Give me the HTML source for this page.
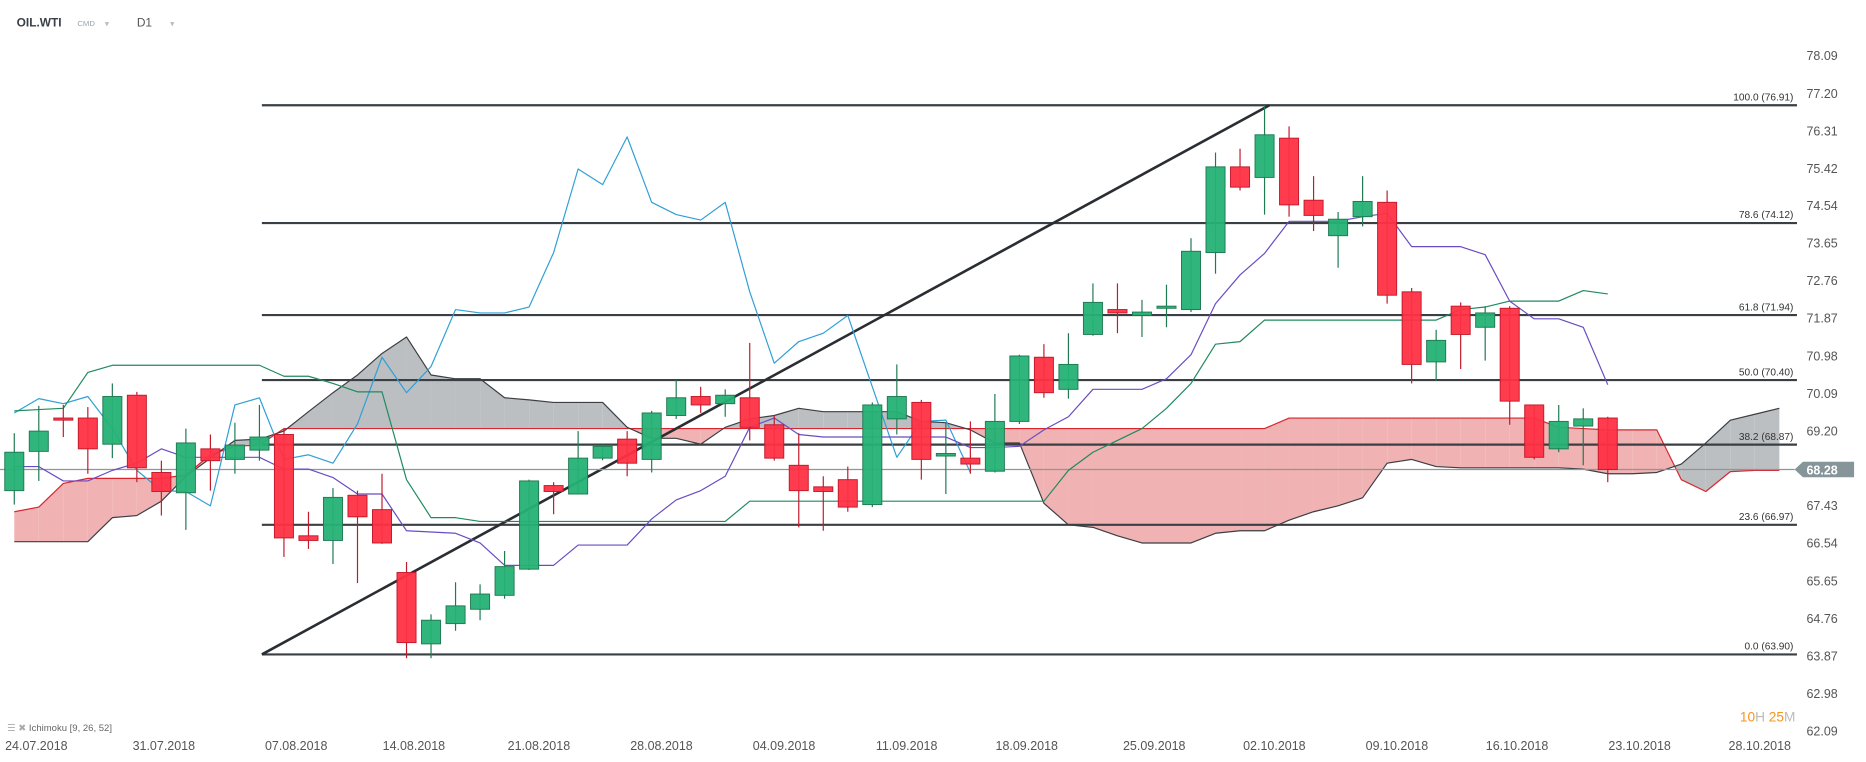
<!DOCTYPE html>
<html><head><meta charset="utf-8"><style>
html,body{margin:0;padding:0;background:#fff;}
svg{display:block;font-family:"Liberation Sans",sans-serif;}
</style></head><body>
<svg id="chart" width="1866" height="762" viewBox="0 0 1568 640" xmlns="http://www.w3.org/2000/svg">
<rect x="0" y="0" width="1568" height="640" fill="#fff"/>
<g id="header">
<text x="14" y="22" font-size="10" font-weight="bold" fill="#3a4047">OIL.WTI</text>
<text x="65" y="21.5" font-size="6.5" fill="#9aa3a8">CMD</text>
<text x="88" y="22" font-size="7" fill="#bbb">▾</text>
<text x="115" y="22" font-size="10" fill="#555">D1</text>
<text x="143" y="22" font-size="7" fill="#bbb">▾</text>
</g>
<g id="cloud"></g>
<g id="fib"></g>
<g id="lines"></g>
<g id="candles"></g>
<g id="axis"></g>
<text x="6" y="614" font-size="8" fill="#666"><tspan fill="#aaa">☰ ✖</tspan> Ichimoku  [9, 26, 52]</text>
<text x="1462" y="606" font-size="11.5"><tspan fill="#f7941d">10</tspan><tspan fill="#bbb">H </tspan><tspan fill="#f7941d">25</tspan><tspan fill="#bbb">M</tspan></text>
</svg>
<script>
const opens=[67.78,68.71,69.50,69.50,68.88,70.04,68.21,67.73,68.77,68.52,68.74,69.11,66.71,66.60,67.67,67.33,65.84,64.15,64.63,64.97,65.30,65.92,67.90,67.70,68.55,69.00,68.52,69.56,70.01,69.84,69.98,69.34,68.38,67.87,68.04,67.45,69.48,69.87,68.60,68.55,68.24,69.42,70.94,70.18,71.48,72.07,71.93,72.10,72.07,73.42,75.45,75.20,76.13,74.66,73.82,74.27,74.61,72.49,70.83,72.15,71.65,72.10,69.81,68.77,69.31,69.50];
const highs=[69.14,69.79,69.81,69.76,70.32,70.12,68.49,69.25,69.11,69.39,69.81,69.25,67.28,67.84,67.78,68.18,66.09,64.85,65.61,65.56,66.35,68.04,67.98,69.19,68.88,69.19,69.67,70.41,70.24,70.18,71.28,69.56,69.14,68.12,68.35,69.87,70.77,69.93,69.39,69.42,70.07,71.00,71.25,71.51,72.69,72.69,72.30,72.66,73.76,75.79,75.88,76.91,76.41,75.23,74.38,75.23,74.89,72.58,71.59,72.24,72.15,72.15,69.81,69.81,69.73,69.53];
const lows=[67.45,68.01,69.05,68.18,68.55,67.98,67.19,66.85,67.78,68.18,68.49,66.21,66.40,66.04,65.59,66.52,63.81,63.81,64.46,64.71,65.22,65.90,67.22,67.70,68.50,68.12,68.21,69.48,69.62,69.53,68.97,68.49,66.91,66.83,67.28,67.39,69.11,68.04,67.70,68.18,68.21,69.36,69.98,69.96,71.45,71.51,71.42,71.65,72.01,72.92,74.89,74.32,74.27,73.93,73.06,74.04,72.21,70.32,70.38,70.66,70.86,69.34,68.52,68.69,68.38,67.98];
const closes=[68.69,69.19,69.45,68.77,70.01,68.32,67.76,68.91,68.49,68.86,69.05,66.66,66.60,67.62,67.16,66.54,64.18,64.71,65.05,65.33,65.98,68.01,67.76,68.55,68.83,68.43,69.62,69.98,69.81,70.04,69.28,68.55,67.78,67.76,67.39,69.81,70.01,68.52,68.66,68.41,69.42,70.97,70.10,70.77,72.24,71.99,72.01,72.15,73.45,75.45,74.97,76.21,74.55,74.30,74.21,74.63,72.41,70.77,71.34,71.48,71.99,69.90,68.57,69.42,69.48,68.28];
const chikou=[69.62,69.96,69.84,70.01,69.25,68.26,67.78,67.76,67.42,69.81,69.98,68.52,68.63,68.43,69.36,70.94,70.10,70.72,72.07,71.99,71.99,72.13,73.42,75.40,75.03,76.16,74.61,74.32,74.19,74.61,72.49,70.80,71.31,71.51,71.93,70.24,68.57,69.42,69.45,68.21];
const tenkan=[68.35,68.35,68.01,68.01,68.26,68.43,68.77,68.57,68.57,68.57,68.57,68.29,68.29,68.09,67.70,67.70,66.83,66.80,66.77,66.54,66.01,66.01,66.01,66.49,66.49,66.49,67.11,67.56,67.78,68.12,69.28,69.50,69.11,69.05,69.05,69.05,69.05,69.05,69.05,68.80,68.80,68.83,69.22,69.53,70.18,70.18,70.18,70.43,71.00,72.21,72.89,73.40,74.16,74.16,74.16,74.27,74.35,73.56,73.56,73.56,73.37,72.27,71.85,71.85,71.65,70.29];
const kijun=[69.67,69.70,69.73,70.58,70.75,70.75,70.75,70.75,70.75,70.75,70.75,70.49,70.49,70.32,70.12,70.12,68.04,67.14,67.14,67.05,67.05,67.05,67.05,67.05,67.05,67.05,67.05,67.05,67.05,67.05,67.53,67.53,67.53,67.53,67.53,67.53,67.53,67.53,67.53,67.53,67.53,67.53,67.53,68.26,68.69,68.97,69.25,69.73,70.32,71.25,71.31,71.82,71.82,71.82,71.82,71.82,71.82,71.82,71.82,72.07,72.13,72.27,72.27,72.27,72.52,72.44];
const spanA=[67.28,67.39,67.95,68.07,68.07,68.07,68.07,68.15,68.63,68.83,68.86,69.25,69.25,69.25,69.25,69.25,69.25,69.25,69.25,69.25,69.25,69.25,69.25,69.25,69.25,69.25,69.25,69.25,69.25,69.25,69.25,69.25,69.25,69.25,69.25,69.25,69.25,69.25,69.25,69.25,69.25,69.25,69.25,69.25,69.25,69.25,69.25,69.25,69.25,69.25,69.25,69.25,69.50,69.50,69.50,69.50,69.50,69.50,69.50,69.50,69.50,69.50,69.50,69.28,69.25,69.22,69.22,69.22,68.04,67.76,68.23,68.26,68.26];
const spanB=[66.57,66.57,66.57,66.57,67.14,67.19,67.53,68.12,68.55,68.97,69.00,69.19,69.65,70.10,70.52,71.03,71.42,70.52,70.43,70.43,69.98,69.93,69.87,69.87,69.87,69.28,69.02,69.02,68.88,69.28,69.48,69.56,69.73,69.65,69.65,69.65,69.65,69.42,69.39,69.22,68.91,68.91,67.48,66.97,66.91,66.71,66.54,66.54,66.54,66.77,66.83,66.83,67.08,67.28,67.42,67.61,68.43,68.52,68.35,68.32,68.32,68.32,68.32,68.32,68.29,68.18,68.18,68.21,68.41,68.91,69.45,69.59,69.73];
const priceTicks=["78.09","77.20","76.31","75.42","74.54","73.65","72.76","71.87","70.98","70.09","69.20","68.31","67.43","66.54","65.65","64.76","63.87","62.98","62.09"];
const dateLabels=["24.07.2018","31.07.2018","07.08.2018","14.08.2018","21.08.2018","28.08.2018","04.09.2018","11.09.2018","18.09.2018","25.09.2018","02.10.2018","09.10.2018","16.10.2018","23.10.2018","28.10.2018"];
const dateIndex=[0.9,6.1,11.5,16.3,21.4,26.4,31.4,36.4,41.3,46.5,51.4,56.4,61.3,66.3,71.2];
const fibLevels=[100.0,78.6,61.8,50.0,38.2,23.6,0.0];
const fibPrices=[76.91,74.12,71.94,70.40,68.87,66.97,63.90];
const trendStartIndex=10.1, trendEndIndex=51.2;
const lastPrice=68.28;

const NS="http://www.w3.org/2000/svg";
function X(i){return 12+20.6*i;}
function Y(p){return 78+(77.20-p)*35.47;}
function mk(tag,attrs,parent){const e=document.createElementNS(NS,tag);for(const k in attrs)e.setAttribute(k,attrs[k]);parent.appendChild(e);return e;}
const cloud=document.getElementById('cloud'),fib=document.getElementById('fib'),lines=document.getElementById('lines'),candles=document.getElementById('candles'),axis=document.getElementById('axis');

// cloud segments
for(let i=0;i<spanA.length-1;i++){
  const a0=spanA[i],a1=spanA[i+1],b0=spanB[i],b1=spanB[i+1];
  const d0=a0-b0,d1=a1-b1;
  const segs=[];
  if(d0*d1<0){const t=d0/(d0-d1);const pm=a0+(a1-a0)*t;segs.push([i,i+t,a0,pm,b0,pm,d0]);segs.push([i+t,i+1,pm,a1,pm,b1,d1]);}
  else segs.push([i,i+1,a0,a1,b0,b1,d0+d1]);
  segs.forEach(s=>{
    const poly=mk('polygon',{points:`${X(s[0])},${Y(s[2])} ${X(s[1])},${Y(s[3])} ${X(s[1])},${Y(s[5])} ${X(s[0])},${Y(s[4])}`,fill:s[6]>=0?'#f0b2b2':'#bcbfc1'},cloud);
    
    
  });
}
function pline(arr,color,w,name,parent){
  const pts=arr.map((v,i)=>X(i)+','+Y(v)).join(' ');
  const el=mk('polyline',{points:pts,fill:'none',stroke:color,'stroke-width':w,'stroke-linejoin':'round'},parent);
  
  
}
pline(spanA,'#d9262e',1,'senkou-span-a',cloud);
pline(spanB,'#3b3f44',1,'senkou-span-b',cloud);

// fib
fibPrices.forEach((p,k)=>{
  const y=Y(p);
  const l=mk('line',{x1:X(trendStartIndex),x2:1510,y1:y,y2:y,stroke:'#3a3f44','stroke-width':1.8},fib);
  
  
  const t=mk('text',{x:1507,y:y-4,'font-size':8.5,fill:'#333','text-anchor':'end'},fib);
  t.textContent=fibLevels[k].toFixed(1)+' ('+p.toFixed(2)+')';
  
  
});
const tl=mk('line',{x1:X(trendStartIndex),y1:Y(fibPrices[6]),x2:X(trendEndIndex),y2:Y(fibPrices[0]),stroke:'#2a2e33','stroke-width':2.2},fib);



// last price line
const lp=mk('line',{x1:0,x2:1508,y1:Y(lastPrice),y2:Y(lastPrice),stroke:'#8a979b','stroke-width':1},lines);



pline(chikou,'#2f9fd6',1,'chikou-span',lines);
pline(kijun,'#1f8a5e',1,'kijun-sen',lines);
pline(tenkan,'#6a4cc2',1,'tenkan-sen',lines);

// candles
opens.forEach((o,i)=>{
  const c=closes[i],up=c>=o,x=X(i);
  const g=mk('g',{},candles);
  
  
  const col=up?'#1f7a52':'#c21a2c';
  mk('line',{x1:x,x2:x,y1:Y(highs[i]),y2:Y(lows[i]),stroke:col,'stroke-width':1},g);
  const top=Y(Math.max(o,c)),bot=Y(Math.min(o,c));
  mk('rect',{x:x-8,y:top,width:16,height:Math.max(bot-top,1.5),fill:up?'#25b275':'#ff3045',stroke:col,'stroke-width':0.8,'fill-opacity':0.95},g);
});

// axes
priceTicks.forEach(t=>{
  const e=mk('text',{x:1518,y:Y(parseFloat(t))+4,'font-size':10.5,fill:'#555'},axis);
  e.textContent=t;
  
  
});
dateLabels.forEach((d,k)=>{
  const e=mk('text',{x:X(dateIndex[k]),y:630,'font-size':10.5,fill:'#555','text-anchor':'middle'},axis);
  e.textContent=d;
  
  
});
const ty=Y(lastPrice);
const tag=mk('polygon',{points:`1508,${ty} 1515,${ty-6.5} 1558,${ty-6.5} 1558,${ty+6.5} 1515,${ty+6.5}`,fill:'#86959a'},axis);


const tt=mk('text',{x:1518,y:ty+4,'font-size':10.5,'font-weight':'bold',fill:'#fff'},axis);
tt.textContent=lastPrice.toFixed(2);


</script>
</body></html>
